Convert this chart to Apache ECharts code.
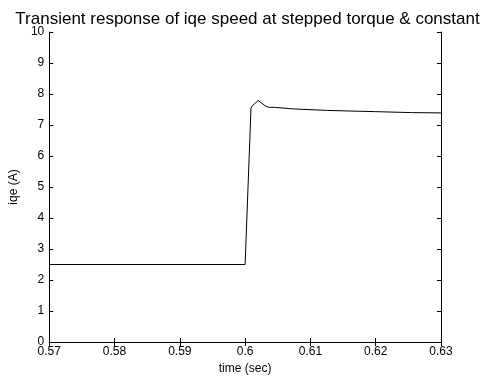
<!DOCTYPE html>
<html>
<head>
<meta charset="utf-8">
<script src="https://cdn.jsdelivr.net/npm/echarts@6/dist/echarts.min.js"></script>
<style>
html,body{margin:0;padding:0;background:#fff;}
#chart{width:495px;height:383px;}
</style>
</head>
<body>
<div id="chart"></div>
<script>
const titleText = "Transient response of iqe speed at stepped torque & constant";
const xName = "time (sec)";
const yName = "iqe (A)";
const timeValues = [0.57, 0.6, 0.6009, 0.6011, 0.6020, 0.6032, 0.6037, 0.6045, 0.6073, 0.6126, 0.6200, 0.6255, 0.63];
const iqeValues  = [2.5, 2.5, 7.55, 7.62, 7.79, 7.60, 7.57, 7.57, 7.52, 7.47, 7.43, 7.40, 7.39];
const xMin = 0.57, xMax = 0.63, xStep = 0.01;
const yMin = 0, yMax = 10, yStep = 1;

const data = timeValues.map((t, i) => [t, iqeValues[i]]);
const font = "Liberation Sans, Arial, sans-serif";
const fmtX = v => String(parseFloat((+v).toFixed(2)));

const chart = echarts.init(document.getElementById('chart'), null, {renderer: 'canvas'});
const baseAxisLine = {show: true, lineStyle: {color: '#000', width: 1}};
const tick = {show: true, inside: true, length: 4, lineStyle: {color: '#000', width: 1}};
chart.setOption({
  animation: false,
  backgroundColor: '#fff',
  title: {
    text: titleText, left: 'center', top: 6,
    textStyle: {fontFamily: font, fontSize: 17, fontWeight: 'normal', color: '#000'}
  },
  grid: {left: 49, right: 54, top: 32, bottom: 41, containLabel: false},
  xAxis: [{
    type: 'value', min: xMin, max: xMax, interval: xStep,
    name: xName, nameLocation: 'middle', nameGap: 21,
    nameTextStyle: {fontFamily: font, fontSize: 12, color: '#000'},
    axisLine: baseAxisLine, axisTick: tick,
    axisLabel: {fontFamily: font, fontSize: 12, color: '#000', margin: 4, formatter: fmtX},
    splitLine: {show: false}
  }, {
    type: 'value', position: 'top', min: xMin, max: xMax, interval: xStep,
    axisLine: baseAxisLine, axisTick: tick, axisLabel: {show: false}, splitLine: {show: false}
  }],
  yAxis: [{
    type: 'value', min: yMin, max: yMax, interval: yStep,
    name: yName, nameLocation: 'middle', nameGap: 26,
    nameTextStyle: {fontFamily: font, fontSize: 12, color: '#000'},
    axisLine: baseAxisLine, axisTick: tick,
    axisLabel: {fontFamily: font, fontSize: 12, color: '#000', margin: 5},
    splitLine: {show: false}
  }, {
    type: 'value', position: 'right', min: yMin, max: yMax, interval: yStep,
    axisLine: baseAxisLine, axisTick: tick, axisLabel: {show: false}, splitLine: {show: false}
  }],
  series: [{
    type: 'line', data: data, xAxisIndex: 0, yAxisIndex: 0,
    showSymbol: false, symbol: 'none',
    lineStyle: {color: '#000', width: 1}
  }]
});
</script>
</body>
</html>
